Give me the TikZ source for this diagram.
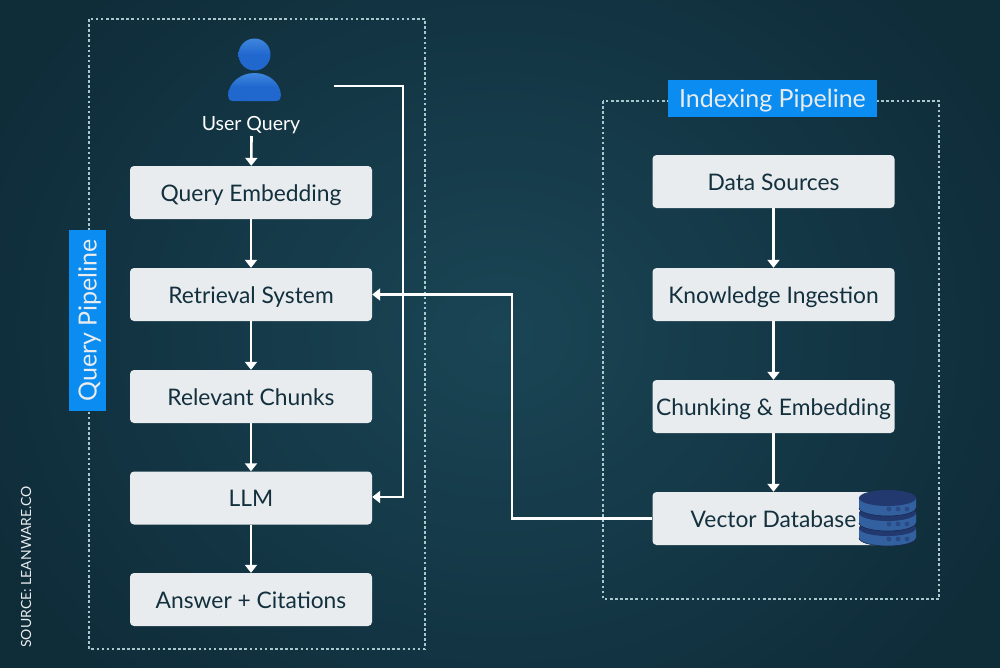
\documentclass[tikz,border=0pt]{standalone}
\usepackage{fontspec}
\setmainfont{Lato}
\usetikzlibrary{arrows.meta}
\definecolor{bgmid}{HTML}{1A4555}
\definecolor{bgedge}{HTML}{0F2C39}
\definecolor{boxfill}{HTML}{E9ECEE}
\definecolor{boxtext}{HTML}{12303D}
\definecolor{dotline}{HTML}{A8C8CE}
\definecolor{tagblue}{HTML}{0A8CF0}
\definecolor{userblue}{HTML}{2068CE}
\definecolor{userlight}{HTML}{3F86DE}
\definecolor{disktop}{HTML}{22396F}
\definecolor{diskside}{HTML}{33609F}
\definecolor{diskdot}{HTML}{2A4A85}
\tikzset{
	stepbox/.style={fill=boxfill,text=boxtext,rounded corners=4pt,minimum width=242pt,minimum height=53pt,inner sep=0pt,text height=17pt,text depth=0pt,font=\fontsize{22.8}{27}\selectfont},
	pipeline/.style={draw=dotline,line width=2.8pt,dash pattern=on 2.6pt off 2.5pt},
	pipetag/.style={fill=tagblue,text=boxfill,inner sep=0pt,text height=18pt,text depth=0pt,font=\fontsize{25}{28}\selectfont},
	flow/.style={draw=white,line width=2.6pt,-{Triangle[width=12pt,length=8pt]}}
}
\begin{document}
\begin{tikzpicture}[x=1pt,y=-1pt]
	\useasboundingbox (0,0) rectangle (1000,667);
	\shade[inner color=bgmid,outer color=bgedge] (-60,-150) rectangle (1060,817);
	% dotted frames
	\draw[pipeline] (89,19) rectangle (425,649);
	\draw[pipeline] (603,101) rectangle (939,599);
	\node[pipetag,minimum width=209pt,minimum height=37pt] (indextag) at (772.5,98.5) {Indexing Pipeline};
	\node[pipetag,minimum width=181pt,minimum height=37pt,rotate=90] (querytag) at (87.5,320.5) {Query Pipeline};
	% user
	\shade[top color=userlight,bottom color=userblue,middle color=userblue] (254.5,54.5) circle (16pt);
	\shade[top color=userlight,bottom color=userblue,middle color=userblue] (233,101) .. controls (229,101) and (228,98) .. (228,95)
		.. controls (229,82) and (241,73) .. (254.5,73)
		.. controls (268,73) and (280,82) .. (281,95)
		.. controls (281,98) and (280,101) .. (276,101) -- cycle;
	\node[text=white,inner sep=0pt,font=\fontsize{19.5}{22}\selectfont] (user) at (251,125) {User Query};
	% query side
	\node[stepbox] (embed) at (251,192.5) {Query Embedding};
	\node[stepbox] (retrieve) at (251,294.5) {Retrieval System};
	\node[stepbox] (chunks) at (251,396.5) {Relevant Chunks};
	\node[stepbox] (llm) at (251,498) {LLM};
	\node[stepbox] (answer) at (251,599.5) {Answer + Citations};
	% indexing side
	\node[stepbox] (sources) at (773.5,181.5) {Data Sources};
	\node[stepbox] (ingest) at (773.5,294.5) {Knowledge Ingestion};
	\node[stepbox] (chunking) at (773.5,406.5) {Chunking \& Embedding};
	\node[stepbox] (vector) at (773.5,518.5) {Vector Database};
	% connectors
	\coordinate (userout) at (334,86);
	\coordinate (userdown) at (251.5,136);
	\draw[flow] (userdown) -- (embed);
	\draw[flow] (embed) -- (retrieve);
	\draw[flow] (retrieve) -- (chunks);
	\draw[flow] (chunks) -- (llm);
	\draw[flow] (llm) -- (answer);
	\draw[flow] (sources) -- (ingest);
	\draw[flow] (ingest) -- (chunking);
	\draw[flow] (chunking) -- (vector);
	\draw[flow] (userout) -- (403,86) -- (403,497) -- (llm.east |- 0,497);
	\draw[flow] (vector.west) -- (512,518.5) -- (512,294.5) -- (retrieve.east);
	% database
	\foreach \d in {528,513,498}{
		\fill[diskside] (859,\d) -- (859,\d+10) arc[start angle=180,end angle=360,x radius=28.5pt,y radius=8pt] -- (916,\d) -- cycle;
		\draw[disktop!70!black,line width=0.6pt] (859,\d+10) arc[start angle=180,end angle=360,x radius=28.5pt,y radius=8pt];
		\fill[disktop] (887.5,\d) ellipse (28.5pt and 8pt);
		\foreach \x in {889,898,907}{
			\fill[diskdot] (\x,\d+11) circle (2.4pt);
		}
	}
	\node[rotate=90,text=boxfill,inner sep=0pt,font=\fontsize{14}{18}\selectfont] (source) at (26,567) {SOURCE: LEANWARE.CO};
\end{tikzpicture}
\end{document}
